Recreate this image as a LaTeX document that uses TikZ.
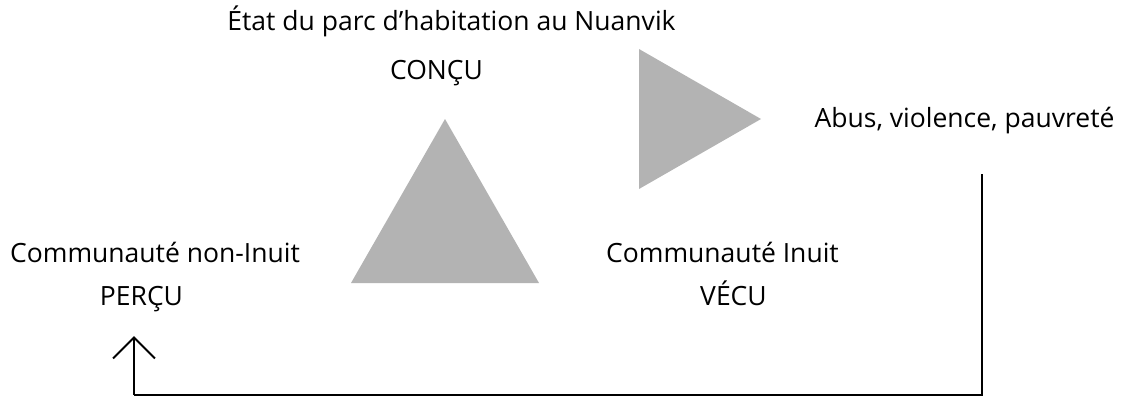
\documentclass[tikz,border=0pt]{standalone}
\usepackage{fontspec}
\setmainfont{Open Sans}
\usetikzlibrary{arrows.meta}
\definecolor{trigray}{RGB}{179,179,179}
\tikzset{
  lbl/.style={anchor=base, inner sep=0pt, font=\fontsize{26.5}{31}\selectfont},
  tri/.style={fill=trigray, draw=none},
  conn/.style={draw=black, line width=2pt},
}
\begin{document}
\begin{tikzpicture}[x=1pt,y=-1pt]
\useasboundingbox (0,0) rectangle (1122,396);
% texts
\node[lbl] (titre) at (451.5,31) {État du parc d’habitation au Nuanvik};
\node[lbl] (concu) at (436.5,80) {CONÇU};
\node[lbl] (noninuit) at (155,262) {Communauté non-Inuit};
\node[lbl] (percu) at (141.5,305) {PERÇU};
\node[lbl] (inuit) at (722.5,262) {Communauté Inuit};
\node[lbl] (vecu) at (733.5,305) {VÉCU};
\node[lbl] (abus) at (964.5,127) {Abus, violence, pauvreté};
% triangles
\fill[tri] (445,119) -- (539,283) -- (351,283) -- cycle;
\fill[tri] (639,49) -- (761,119) -- (639,189) -- cycle;
% connector
\coordinate (vtop) at (982,174);
\coordinate (corner) at (982,395);
\coordinate (cornerleft) at (134,395);
\coordinate (arrtip) at (134,336);
\draw[conn] (vtop) -- (corner) -- (cornerleft);
\draw[conn, -{Straight Barb[length=21pt,width=42pt,line width=2pt]}] (cornerleft) -- (arrtip);
\end{tikzpicture}
\end{document}
